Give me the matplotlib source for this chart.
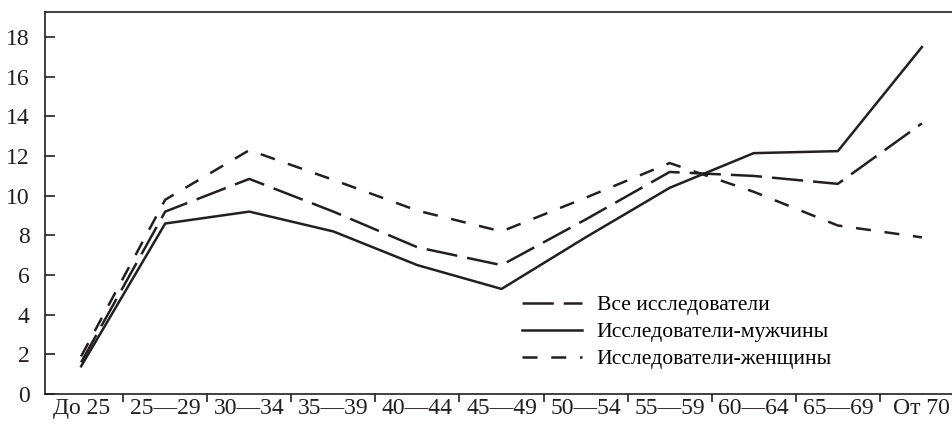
import numpy as np
import matplotlib.pyplot as plt
from matplotlib.ticker import FixedLocator

plt.rcParams['font.family'] = ['Liberation Serif', 'DejaVu Serif']

ages = ['До 25', '25—29', '30—34', '35—39', '40—44', '45—49',
        '50—54', '55—59', '60—64', '65—69', 'От 70']
all_res = [1.6, 9.2, 10.85, 9.2, 7.4, 6.5, 8.8, 11.2, 11.0, 10.6, 13.65]
men = [1.4, 8.6, 9.2, 8.2, 6.5, 5.3, 7.9, 10.4, 12.15, 12.25, 17.5]
women = [1.9, 9.8, 12.3, 10.8, 9.25, 8.2, 9.9, 11.65, 10.2, 8.5, 7.9]

col = '#231f20'
x = np.arange(len(ages))

fig = plt.figure(figsize=(9.53, 4.30), dpi=100)
ax = fig.add_axes([0.0472, 0.0837, 0.9528, 0.888])

ax.plot(x, all_res, color=col, lw=1.8, dashes=(12.5, 4), label='Все исследователи')
ax.plot(x, men, color=col, lw=1.8, label='Исследователи-мужчины')
ax.plot(x, women, color=col, lw=1.8, dashes=(6, 5.5), label='Исследователи-женщины')

ax.set_xlim(-0.43, 10.37)
ax.set_ylim(0, 19.26)
ax.set_yticks(range(0, 19, 2))
ax.set_xticks(x)
ax.set_xticklabels(ages)
ax.xaxis.set_minor_locator(FixedLocator(x[:-1] + 0.5))
ax.tick_params(axis='x', which='major', length=0, pad=3, labelsize=17, colors=col)
ax.tick_params(axis='x', which='minor', length=6, width=1.2, direction='out', color=col)
ax.tick_params(axis='y', length=7, width=1.2, direction='in', pad=11, labelsize=17, colors=col)

ax.spines['right'].set_visible(False)
for s in ['left', 'bottom', 'top']:
    ax.spines[s].set_linewidth(1.2)
    ax.spines[s].set_color(col)

ax.legend(loc='upper left', bbox_to_anchor=(0.525, 0.259), frameon=False,
          fontsize=15.6, handlelength=2.77, handletextpad=0.69, labelspacing=0.32,
          borderpad=0, borderaxespad=0)

fig.savefig('out.png', dpi=100)
